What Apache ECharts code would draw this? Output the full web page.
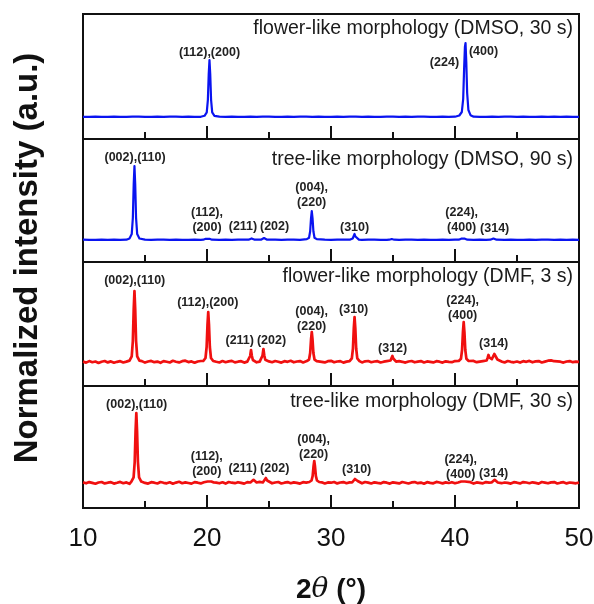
<!DOCTYPE html>
<html>
<head>
<meta charset="utf-8">
<script src="https://cdn.jsdelivr.net/npm/echarts@6/dist/echarts.min.js"></script>
<style>
  html, body { margin: 0; padding: 0; background: #fff; }
  #chart { width: 594px; height: 604px; }
</style>
</head>
<body>
<div id="chart"></div>
<script>
// XRD patterns, 2θ from 10° to 50°, four stacked panels.
const xTicks = [10, 20, 30, 40, 50];

const panelTitles = [
  'flower-like morphology (DMSO, 30 s)',
  'tree-like morphology (DMSO, 90 s)',
  'flower-like morphology (DMF, 3 s)',
  'tree-like morphology (DMF, 30 s)'
];

// Background intensity (a.u.) sampled every 0.5° (DMSO) or 0.25° (DMF) from 10°.
const bgDmso30 = [
  0.2,0.1,0.3,0.2,0.1,0.3,0.2,0.2,0.4,0.3,0.2,0.1,0.3,0.2,0.4,0.3,0.2,0.3,0.1,0.2,
  0.3,0.2,0.4,0.2,0.3,0.1,0.2,0.3,0.2,0.4,0.3,0.2,0.1,0.3,0.2,0.3,0.4,0.2,0.3,0.2,
  0.1,0.3,0.2,0.4,0.3,0.2,0.3,0.1,0.2,0.4,0.3,0.2,0.3,0.2,0.4,0.3,0.2,0.1,0.3,0.2,
  0.3,0.2,0.4,0.3,0.2,0.1,0.3,0.2,0.4,0.3,0.2,0.3,0.1,0.2,0.3,0.2,0.4,0.2,0.3,0.2,
  0.2
];
const bgDmso90 = [
  0.3,0.2,0.1,0.3,0.2,0.4,0.2,0.3,0.2,0.1,0.3,0.2,0.3,0.4,0.2,0.3,0.2,0.1,0.3,0.2,
  0.4,0.3,0.2,0.3,0.2,0.4,0.3,0.2,0.1,0.3,0.2,0.3,0.2,0.4,0.3,0.2,0.3,0.2,0.1,0.3,
  0.2,0.4,0.3,0.2,0.3,0.2,0.4,0.3,0.2,0.1,0.3,0.2,0.4,0.3,0.2,0.3,0.1,0.2,0.3,0.2,
  0.4,0.3,0.2,0.1,0.3,0.2,0.4,0.3,0.2,0.3,0.2,0.1,0.3,0.2,0.4,0.3,0.2,0.3,0.2,0.3,
  0.2
];
const bgDmf3 = [
  0.4,-0.6,0.9,-0.2,0.5,-0.9,0.3,1.0,-0.4,0.6,-0.7,0.2,0.8,-0.5,0.4,-0.8,0.7,0.1,-0.3,0.9,
  -0.6,0.5,1.1,-0.2,0.4,-0.8,0.9,0.2,-0.5,1.2,0.3,-0.4,0.8,1.3,-0.1,0.6,-0.7,0.5,1.0,-0.3,
  0.4,-0.6,0.8,0.2,-0.5,0.9,-0.2,0.6,1.1,-0.4,0.3,0.8,-0.6,0.5,1.0,0.1,-0.3,0.7,0.9,-0.5,
  0.6,-0.2,1.0,0.3,-0.6,0.8,0.2,1.2,-0.3,0.5,0.9,-0.4,0.7,1.1,0.0,-0.5,0.6,0.2,-0.4,0.8,
  1.2,-0.3,0.5,0.9,-0.6,0.4,1.0,0.1,1.4,0.3,-0.4,0.7,1.0,-0.2,0.5,0.8,-0.5,0.3,0.9,-0.1,
  0.6,-0.4,0.8,0.2,-0.6,0.5,1.0,-0.3,0.4,0.9,-0.5,0.6,0.1,-0.4,0.8,0.3,-0.6,0.7,0.2,-0.2,
  0.9,-0.4,0.5,0.8,-0.3,0.6,1.1,-0.2,0.4,0.9,-0.5,0.7,0.2,-0.6,0.8,0.3,-0.4,1.0,0.2,-0.3,
  0.5,-0.6,0.8,0.2,1.1,-0.3,0.6,0.9,-0.5,0.4,1.3,1.6,0.8,0.7,0.3,-0.6,0.5,0.9,-0.2,0.4,
  0.2
];
const bgDmf30 = [
  0.6,-0.3,0.9,0.1,-0.7,0.5,1.0,-0.4,0.3,0.8,-0.6,0.2,1.1,-0.2,0.6,-0.8,0.4,0.9,-0.3,0.5,
  0.1,-0.6,0.8,0.3,-0.5,1.0,0.2,-0.3,0.7,-0.7,0.4,1.2,-0.2,0.6,0.0,-0.6,0.9,0.3,-0.4,0.7,
  0.2,-0.5,0.9,0.4,-0.3,0.7,-0.6,1.0,0.3,-0.2,0.8,0.1,-0.6,0.9,0.5,-0.3,0.6,1.1,-0.4,0.2,
  0.8,-0.3,0.5,1.0,-0.5,0.3,0.9,-0.2,0.6,0.1,-0.6,0.8,0.4,-0.4,1.1,0.2,-0.3,0.7,-0.5,0.6,
  0.3,1.0,-0.4,0.5,0.9,-0.2,0.6,-0.6,0.8,0.2,-0.3,1.0,0.4,-0.5,0.7,0.1,-0.4,0.9,0.3,-0.6,
  0.7,0.2,-0.4,1.0,0.3,-0.5,0.6,0.9,-0.2,0.4,-0.7,0.8,0.2,-0.3,1.1,0.5,-0.4,0.6,0.0,0.8,
  -0.3,0.5,1.0,-0.4,0.3,0.8,-0.6,0.6,0.2,-0.3,0.9,0.4,-0.5,0.7,1.0,-0.2,0.5,0.1,-0.6,0.8,
  0.3,-0.4,0.9,0.5,-0.2,0.7,0.1,-0.6,1.0,0.4,-0.3,0.6,0.9,-0.5,0.3,0.8,-0.4,0.5,0.1,-0.3,
  0.4
];

// Reflection profiles, [2θ, intensity] pairs.
const peaksDmso30 = [
  [[19.8,1.2],[19.98,4.6],[20.07,17],[20.14,43],[20.2,57],[20.26,43],[20.33,17],[20.42,4.6],[20.6,1.2]],
  [[40.35,1.5],[40.55,5],[40.66,18],[40.74,50],[40.8,70],[40.85,74],[40.91,55],[40.98,24],[41.08,7],[41.25,1.8]]
];
const peaksDmso90 = [
  [[13.75,1.5],[13.93,5.9],[14.02,22],[14.09,56],[14.15,74],[14.21,56],[14.28,22],[14.37,5.9],[14.55,1.5]],
  [[19.7,0.3],[19.9,1.2],[20.05,2.5],[20.2,1.2],[20.4,0.3]],
  [[23.35,0.3],[23.6,1.6],[23.85,0.3]],
  [[24.35,0.3],[24.6,2],[24.85,0.3]],
  [[28.05,0.9],[28.23,2.3],[28.32,8.7],[28.39,22],[28.45,29],[28.51,22],[28.58,8.7],[28.67,2.3],[28.85,0.9]],
  [[31.55,0.4],[31.75,1.5],[31.83,3.5],[31.9,6],[31.97,3.5],[32.05,1.5],[32.25,0.4]],
  [[34.7,0.3],[34.9,1],[35.1,0.3]],
  [[40.3,0.3],[40.5,1.3],[40.65,2.2],[40.8,1.3],[41.0,0.3]],
  [[42.85,0.3],[43.1,1.5],[43.35,0.3]]
];
const peaksDmf3 = [
  [[13.75,1.4],[13.93,5.7],[14.02,21],[14.09,53],[14.15,71],[14.21,53],[14.28,21],[14.37,5.7],[14.55,1.4]],
  [[19.7,1],[19.88,4],[19.97,15],[20.04,37.5],[20.1,50],[20.16,37.5],[20.23,15],[20.32,4],[20.5,1]],
  [[23.25,0.4],[23.4,2],[23.48,6],[23.55,12],[23.62,6],[23.7,2],[23.85,0.4]],
  [[24.25,0.4],[24.4,2.2],[24.48,6.5],[24.55,13],[24.62,6.5],[24.7,2.2],[24.85,0.4]],
  [[28.05,0.9],[28.23,2.4],[28.32,9],[28.39,22.5],[28.45,30],[28.51,22.5],[28.58,9],[28.67,2.4],[28.85,0.9]],
  [[31.5,0.9],[31.68,3.6],[31.77,13.5],[31.84,34],[31.9,45],[31.96,34],[32.03,13.5],[32.12,3.6],[32.3,0.9]],
  [[34.65,0.3],[34.8,1.5],[34.88,3.5],[34.95,6],[35.02,3.5],[35.1,1.5],[35.25,0.3]],
  [[40.3,1],[40.48,3.2],[40.57,12],[40.64,30],[40.7,40],[40.76,30],[40.83,12],[40.92,3.2],[41.1,1]],
  [[42.4,0.4],[42.55,1.5],[42.63,4],[42.7,7],[42.77,4.5],[42.87,2.5],[42.97,2.8],[43.08,4.5],[43.17,8],[43.25,9],[43.32,6],[43.42,2.5],[43.58,0.8],[43.8,0.3]]
];
const peaksDmf30 = [
  [[13.9,1.4],[14.08,5.6],[14.17,21],[14.24,52],[14.3,70],[14.36,52],[14.43,21],[14.52,5.6],[14.7,1.4]],
  [[19.85,0.5],[20.05,1.5],[20.2,2.8],[20.35,1.5],[20.55,0.5]],
  [[23.5,0.5],[23.65,1.8],[23.75,3.2],[23.85,1.8],[24.0,0.5]],
  [[24.5,0.5],[24.65,2.5],[24.75,5],[24.85,2.5],[25.0,0.5]],
  [[28.25,1],[28.43,2.5],[28.52,7],[28.59,16.5],[28.65,22],[28.71,16.5],[28.78,7],[28.87,2.5],[29.05,1]],
  [[31.7,0.5],[31.85,2],[31.93,4],[32.0,6],[32.07,4],[32.15,2],[32.3,0.5]],
  [[40.35,0.5],[40.5,1.5],[40.65,2.5],[40.8,1.5],[40.95,0.5]],
  [[42.95,0.5],[43.1,1.8],[43.2,3.2],[43.3,1.8],[43.45,0.5]]
];

// Miller-index annotations: [text, 2θ, intensity at label centre].
const hklDmso30 = [
  ['(112),(200)', 20.2, 64],
  ['(224)', 39.15, 54],
  ['(400)', 42.3, 65]
];
const hklDmso90 = [
  ['(002),(110)', 14.2, 82],
  ['(112),\n(200)', 20.0, 19.5],
  ['(211)', 22.9, 13],
  ['(202)', 25.45, 13],
  ['(004),\n(220)', 28.44, 44.5],
  ['(310)', 31.9, 12],
  ['(224),\n(400)', 40.54, 19.5],
  ['(314)', 43.2, 11]
];
const hklDmf3 = [
  ['(002),(110)', 14.17, 81],
  ['(112),(200)', 20.06, 59],
  ['(211)', 22.64, 21],
  ['(202)', 25.2, 21],
  ['(004),\n(220)', 28.44, 43],
  ['(310)', 31.83, 52],
  ['(312)', 34.97, 13],
  ['(224),\n(400)', 40.62, 53.5],
  ['(314)', 43.12, 18]
];
const hklDmf30 = [
  ['(002),(110)', 14.33, 78],
  ['(112),\n(200)', 19.98, 18.5],
  ['(211)', 22.88, 14],
  ['(202)', 25.46, 14],
  ['(004),\n(220)', 28.6, 35.5],
  ['(310)', 32.07, 13],
  ['(224),\n(400)', 40.46, 15.5],
  ['(314)', 43.12, 9]
];

// Join background samples and reflection profiles into one sorted trace.
function buildTrace(bg, step, peaks) {
  const pts = [];
  bg.forEach((v, i) => {
    const x = 10 + i * step;
    const inPeak = peaks.some(p => x >= p[0][0] - 0.05 && x <= p[p.length - 1][0] + 0.05);
    if (!inPeak) pts.push([x, v]);
  });
  peaks.forEach(p => p.forEach(q => pts.push(q)));
  pts.sort((a, b) => a[0] - b[0]);
  return pts;
}

const FONT = "'Liberation Sans', Arial, Helvetica, sans-serif";
const BLUE = '#0a14f0';
const RED = '#f01010';

const panels = [
  { top: 14,  height: 125, ymin: -22, ymax: 103, color: BLUE, width: 2.2, trace: buildTrace(bgDmso30, 0.5, peaksDmso30), hkl: hklDmso30, titleBase: 23 },
  { top: 139, height: 123, ymin: -22, ymax: 101, color: BLUE, width: 2.2, trace: buildTrace(bgDmso90, 0.5, peaksDmso90), hkl: hklDmso90, titleBase: 29 },
  { top: 262, height: 124, ymin: -24, ymax: 100, color: RED,  width: 2.7, trace: buildTrace(bgDmf3, 0.25, peaksDmf3),   hkl: hklDmf3,   titleBase: 23 },
  { top: 386, height: 122, ymin: -25, ymax: 97,  color: RED,  width: 2.7, trace: buildTrace(bgDmf30, 0.25, peaksDmf30), hkl: hklDmf30,  titleBase: 24 }
];

const grid = [], xAxis = [], yAxis = [], series = [], graphic = [];

panels.forEach((p, i) => {
  const last = i === panels.length - 1;
  grid.push({
    left: 83, right: 15, top: p.top, height: p.height,
    outerBoundsMode: 'none', containLabel: false,
    show: true, borderColor: '#111', borderWidth: 2, backgroundColor: 'transparent'
  });
  xAxis.push({
    gridIndex: i, type: 'value', position: 'bottom',
    min: xTicks[0], max: xTicks[xTicks.length - 1], interval: 10,
    axisLine: { show: false, onZero: false },
    axisTick: { show: true, inside: true, length: 13, lineStyle: { color: '#111', width: 2 } },
    minorTick: { show: true, splitNumber: 2, length: 7, lineStyle: { color: '#111', width: 2 } },
    splitLine: { show: false },
    axisLabel: {
      show: last, margin: 18, fontSize: 26, color: '#111', fontFamily: FONT,
      formatter: v => (xTicks.indexOf(v) >= 0 ? String(v) : '')
    },
    name: last ? '{a|2}{b|θ}{c| (°)}' : '',
    nameLocation: 'middle',
    nameGap: 68,
    nameTextStyle: {
      rich: {
        a: { fontSize: 28, fontWeight: 'bold', fontFamily: FONT, color: '#111' },
        b: { fontSize: 28, fontStyle: 'italic', fontFamily: "'DejaVu Serif', serif", color: '#111' },
        c: { fontSize: 28, fontWeight: 'bold', fontFamily: FONT, color: '#111' }
      }
    }
  });
  yAxis.push({ gridIndex: i, type: 'value', min: p.ymin, max: p.ymax, show: false });
  series.push({
    type: 'line', xAxisIndex: i, yAxisIndex: i, data: p.trace,
    showSymbol: false, animation: false, silent: true,
    lineStyle: { color: p.color, width: p.width, join: 'round' },
    markPoint: {
      symbol: 'rect', symbolSize: 1, animation: false, silent: true,
      itemStyle: { color: 'rgba(0,0,0,0)' },
      label: {
        show: true, position: 'inside', formatter: '{b}',
        fontSize: 12.5, fontWeight: 'bold', color: '#222', lineHeight: 15, fontFamily: FONT, align: 'center'
      },
      data: p.hkl.map(h => ({ name: h[0], coord: [h[1], h[2]] }))
    }
  });
  graphic.push({
    type: 'text', right: 21, top: p.top + p.titleBase - 18,
    style: { text: panelTitles[i], fontSize: 19.5, fontFamily: FONT, fill: '#1a1a1a' }
  });
});

// Rotated y-axis title shared by all panels.
graphic.push({
  type: 'text', x: 28, y: 258, rotation: Math.PI / 2,
  style: {
    text: 'Normalized intensity (a.u.)', fontSize: 33, fontWeight: 'bold',
    fontFamily: FONT, fill: '#111', align: 'center', verticalAlign: 'middle'
  }
});

const chart = echarts.init(document.getElementById('chart'), null, { renderer: 'canvas' });
chart.setOption({
  animation: false,
  backgroundColor: '#fff',
  grid, xAxis, yAxis, series, graphic
});
</script>
</body>
</html>
